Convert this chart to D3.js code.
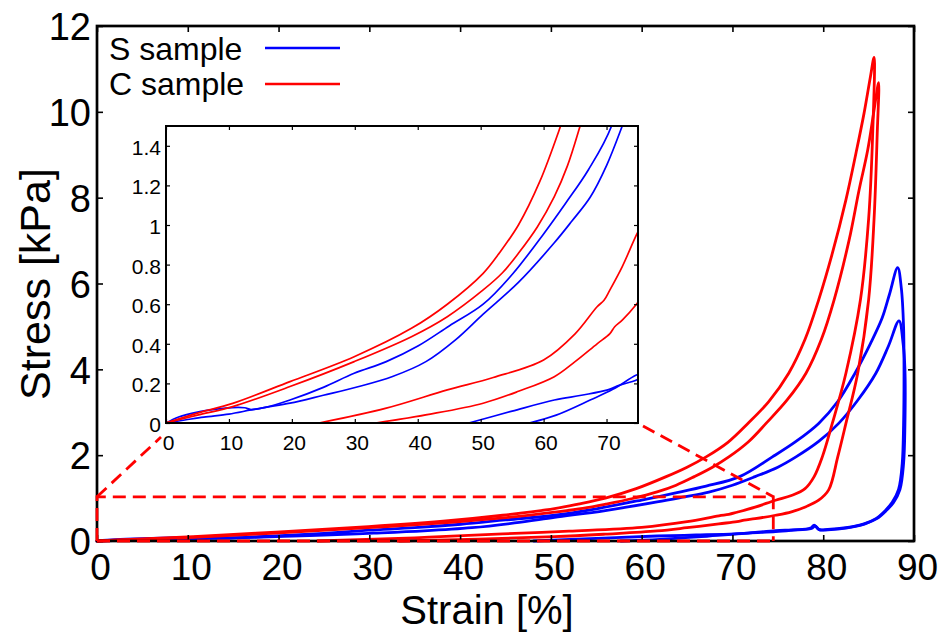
<!DOCTYPE html>
<html>
<head>
<meta charset="utf-8">
<script src="https://cdn.jsdelivr.net/npm/d3@7"></script>
<style>
  html, body { margin: 0; padding: 0; background: #fff; }
  svg { display: block; font-family: "Liberation Sans", Arial, Helvetica, sans-serif; }
</style>
</head>
<body>
<svg id="chart" width="951" height="634"></svg>
<script>
// ---------------- DATA (strain %, stress kPa) ----------------
// C sample (red), cycle 1 loading / unloading
const cLoad1 = [[0,0],[5,0.05],[10.6,0.099],[19.7,0.209],[29.9,0.335],[39.0,0.478],[44.7,0.6],[50.4,0.756],[53,0.86],[56.0,1.0],[59.4,1.22],[62.7,1.5],[65,1.72],[67.1,1.96],[69.5,2.3],[71.7,2.74],[74,3.25],[76.2,3.91],[78,4.7],[79.5,5.62],[81.0,6.70],[82.5,7.95],[83.6,9.03],[84.5,9.97],[85.2,10.82],[85.6,11.27]];
const cUnload1 = [[85.6,11.27],[85.45,9.5],[85.0,7.5],[84.1,5.62],[82.5,3.91],[81.0,2.74],[79.9,1.96],[79.0,1.5],[78.0,1.22],[76.5,1.06],[74.75,0.95],[72.5,0.79],[70.5,0.67],[69.6,0.62],[68.5,0.587],[65,0.45],[60,0.318],[52,0.23],[44.7,0.167],[35,0.075],[24.3,0]];
// C sample (red), cycle 2
const cLoad2 = [[0,0],[5,0.04],[10.6,0.083],[19.7,0.184],[29.9,0.31],[39.0,0.436],[44.7,0.537],[50.4,0.672],[53.5,0.76],[56.0,0.857],[59,0.99],[61.7,1.143],[63.8,1.3],[65.8,1.5],[67.8,1.72],[69.6,1.96],[71.8,2.32],[73.7,2.74],[76,3.28],[78.1,3.91],[79.8,4.7],[81.2,5.62],[82.85,7.01],[83.95,8.18],[84.9,9.11],[85.6,10.04],[86.1,10.68]];
const cUnload2 = [[86.1,10.68],[85.95,9.5],[85.6,7.5],[85.0,5.62],[83.8,3.91],[82.5,2.74],[81.6,1.96],[80.6,1.19],[79.5,0.95],[78.1,0.8],[76.5,0.68],[74.75,0.6],[72.5,0.52],[71.3,0.486],[70.5,0.45],[68.5,0.4],[65,0.31],[61.7,0.234],[56,0.16],[50.4,0.1],[42,0.045],[33.3,0]];
// S sample (blue), cycle 1
const sLoad1 = [[0,0],[2,0.03],[5,0.055],[8,0.07],[10.5,0.078],[12.5,0.077],[13.5,0.068],[16,0.08],[19.7,0.116],[25,0.18],[29.9,0.251],[35,0.31],[40.1,0.39],[45,0.49],[50.4,0.6],[55,0.75],[60,0.955],[63.5,1.11],[67.1,1.278],[70.8,1.5],[74.4,1.96],[77,2.32],[79.5,2.74],[81.6,3.25],[83.5,3.91],[85.2,4.6],[86.5,5.2],[87.3,5.75],[88.2,6.37]];
const sUnload1 = [[88.2,6.37],[88.6,5.9],[88.85,5.0],[88.9,4.0],[88.85,2.7],[88.7,1.8],[88.3,1.2],[87.6,0.9],[86.8,0.7],[85.8,0.52],[84.5,0.4],[82.5,0.31],[80.5,0.27],[79.5,0.27],[79.0,0.37],[78.6,0.3],[76.5,0.25],[74.75,0.217],[72,0.19],[70.2,0.167],[66,0.14],[61.7,0.116],[55,0.06],[48.1,0]];
// S sample (blue), cycle 2
const sLoad2 = [[0,0],[3,0.015],[6,0.03],[10,0.045],[13.5,0.066],[16,0.08],[19.7,0.1],[25,0.14],[30.5,0.183],[36,0.235],[41.3,0.31],[46,0.42],[50.4,0.55],[56.0,0.71],[61.7,0.91],[64.5,1.02],[67.4,1.14],[70,1.3],[72.5,1.5],[75,1.72],[77.0,1.96],[79.5,2.32],[81.7,2.74],[83.8,3.28],[85.8,3.91],[87.2,4.55],[88.35,5.13]];
const sUnload2 = [[88.35,5.13],[88.8,4.6],[89.0,4.0],[89.0,2.7],[88.85,1.8],[88.45,1.2],[87.75,0.9],[86.9,0.7],[85.9,0.52],[84.6,0.4],[82.5,0.3],[80.5,0.26],[79.6,0.26],[79.1,0.35],[78.7,0.29],[76.5,0.26],[74.75,0.242],[71,0.17],[67.4,0.116],[62,0.04],[57.7,0]];

const seriesNames = ["S sample", "C sample"];
const seriesColors = ["#0000ff", "#ff0000"];

const mainXTicks = [0,10,20,30,40,50,60,70,80,90];
const mainYTicks = [0,2,4,6,8,10,12];
const insetXTicks = [0,10,20,30,40,50,60,70];
const insetYTicks = [0,0.2,0.4,0.6,0.8,1,1.2,1.4];
const insetYLabels = ["0","0.2","0.4","0.6","0.8","1","1.2","1.4"];

// zoom box in main-data coordinates
const zoomBoxX = 74.5, zoomBoxY = 1.03;

// ---------------- DRAW ----------------
const svg = d3.select("#chart");
svg.append("rect").attr("width",951).attr("height",634).attr("fill","#fff");

const x = d3.scaleLinear().domain([0,90]).range([97,914]);
const y = d3.scaleLinear().domain([0,12]).range([541,26]);
const xi = d3.scaleLinear().domain([0,75]).range([166,638]);
const yi = d3.scaleLinear().domain([0,1.5]).range([423,126]);

const loops = [
  {d: cLoad1.concat(cUnload1.slice(1)), c: seriesColors[1]},
  {d: cLoad2.concat(cUnload2.slice(1)), c: seriesColors[1]},
  {d: sLoad1.concat(sUnload1.slice(1)), c: seriesColors[0]},
  {d: sLoad2.concat(sUnload2.slice(1)), c: seriesColors[0]}
];

const lineMain = d3.line().x(d=>x(d[0])).y(d=>y(d[1])).curve(d3.curveCatmullRom.alpha(0.5));
const lineIn = d3.line().x(d=>xi(d[0])).y(d=>yi(d[1])).curve(d3.curveCatmullRom.alpha(0.5));

const gMain = svg.append("g");
[2,3,0,1].forEach(i => {
  gMain.append("path").attr("d", lineMain(loops[i].d))
    .attr("fill","none").attr("stroke",loops[i].c).attr("stroke-width",2.8)
    .attr("stroke-linejoin","round").attr("stroke-linecap","round");
});

function styleAxis(g, fs) {
  g.select(".domain").remove();
  g.selectAll(".tick line").attr("stroke","#000").attr("stroke-width",1.6);
  g.selectAll("text").attr("font-size",fs).attr("fill","#000")
    .attr("font-family","'Liberation Sans', Arial, sans-serif");
}
const axB = svg.append("g").attr("transform","translate(0,541)")
  .call(d3.axisBottom(x).tickValues(mainXTicks).tickSize(-6).tickPadding(13).tickFormat(d3.format("d")));
styleAxis(axB, 37); axB.selectAll("text").attr("dx",3);
const axL = svg.append("g").attr("transform","translate(97,0)")
  .call(d3.axisLeft(y).tickValues(mainYTicks).tickSize(-6).tickPadding(6).tickFormat(d3.format("d")));
styleAxis(axL, 38); axL.selectAll("text").attr("dy","0.36em");
const axT = svg.append("g").attr("transform","translate(0,26)")
  .call(d3.axisTop(x).tickValues(mainXTicks).tickSize(-6).tickFormat(""));
styleAxis(axT, 0);
const axR = svg.append("g").attr("transform","translate(914,0)")
  .call(d3.axisRight(y).tickValues(mainYTicks).tickSize(-6).tickFormat(""));
styleAxis(axR, 0);

svg.append("rect").attr("x",x(0)).attr("y",y(12)).attr("width",x(90)-x(0)).attr("height",y(0)-y(12))
  .attr("fill","none").attr("stroke","#000").attr("stroke-width",2.7);

// dashed zoom box and connectors
const gz = svg.append("g").attr("fill","none").attr("stroke","#ff0000")
  .attr("stroke-width",2.8).attr("stroke-dasharray","13,7");
gz.append("path").attr("d",
  `M${x(0)},${y(0)} L${x(zoomBoxX)},${y(0)} M${x(0)},${y(0)} L${x(0)},${y(zoomBoxY)} L${x(zoomBoxX)},${y(zoomBoxY)} L${x(zoomBoxX)},${y(0)}`);
gz.append("line").attr("x1",x(0)).attr("y1",y(zoomBoxY)).attr("x2",xi(0)-5).attr("y2",yi(0)+14);
gz.append("line").attr("x1",xi(75)+5).attr("y1",yi(0)+3).attr("x2",x(zoomBoxX)).attr("y2",y(zoomBoxY));

// ---------------- INSET ----------------
svg.append("rect").attr("x",xi(0)).attr("y",yi(1.5)).attr("width",xi(75)-xi(0)).attr("height",yi(0)-yi(1.5))
  .attr("fill","#fff");
svg.append("clipPath").attr("id","insetClip").append("rect")
  .attr("x",xi(0)).attr("y",yi(1.5)).attr("width",xi(75)-xi(0)).attr("height",yi(0)-yi(1.5));
const gIn = svg.append("g").attr("clip-path","url(#insetClip)");
[2,3,0,1].forEach(i => {
  gIn.append("path").attr("d", lineIn(loops[i].d))
    .attr("fill","none").attr("stroke",loops[i].c).attr("stroke-width",1.7)
    .attr("stroke-linejoin","round");
});
const iaB = svg.append("g").attr("transform",`translate(0,${yi(0)})`)
  .call(d3.axisBottom(xi).tickValues(insetXTicks).tickSize(-4).tickPadding(12).tickFormat(d3.format("d")));
styleAxis(iaB, 21); iaB.selectAll("text").attr("dx",2);
iaB.selectAll(".tick line").attr("stroke-width",1.2);
const iaL = svg.append("g").attr("transform",`translate(${xi(0)},0)`)
  .call(d3.axisLeft(yi).tickValues(insetYTicks).tickSize(-4).tickPadding(5).tickFormat((d,i)=>insetYLabels[i]));
styleAxis(iaL, 21); iaL.selectAll("text").attr("dy","0.4em");
iaL.selectAll(".tick line").attr("stroke-width",1.2);
const iaT = svg.append("g").attr("transform",`translate(0,${yi(1.5)})`)
  .call(d3.axisTop(xi).tickValues(insetXTicks).tickSize(-4).tickFormat(""));
styleAxis(iaT, 0); iaT.selectAll(".tick line").attr("stroke-width",1.2);
const iaR = svg.append("g").attr("transform",`translate(${xi(75)},0)`)
  .call(d3.axisRight(yi).tickValues(insetYTicks).tickSize(-4).tickFormat(""));
styleAxis(iaR, 0); iaR.selectAll(".tick line").attr("stroke-width",1.2);
svg.append("rect").attr("x",xi(0)).attr("y",yi(1.5)).attr("width",xi(75)-xi(0)).attr("height",yi(0)-yi(1.5))
  .attr("fill","none").attr("stroke","#000").attr("stroke-width",2);

// ---------------- LEGEND ----------------
const lg = svg.append("g");
seriesNames.forEach((n,i) => {
  lg.append("text").attr("x",109).attr("y",60 + i*35).attr("font-size",32).attr("fill","#000").text(n);
  lg.append("line").attr("x1",265).attr("x2",340).attr("y1",48 + i*36).attr("y2",48 + i*36)
    .attr("stroke",seriesColors[i]).attr("stroke-width",2.6);
});

// ---------------- TITLES ----------------
svg.append("text").attr("x",487).attr("y",624).attr("text-anchor","middle")
  .attr("font-size",40).attr("fill","#000").text("Strain [%]");
svg.append("text").attr("transform","translate(50,284) rotate(-90)").attr("text-anchor","middle")
  .attr("font-size",43).attr("fill","#000").text("Stress [kPa]");
</script>
</body>
</html>
